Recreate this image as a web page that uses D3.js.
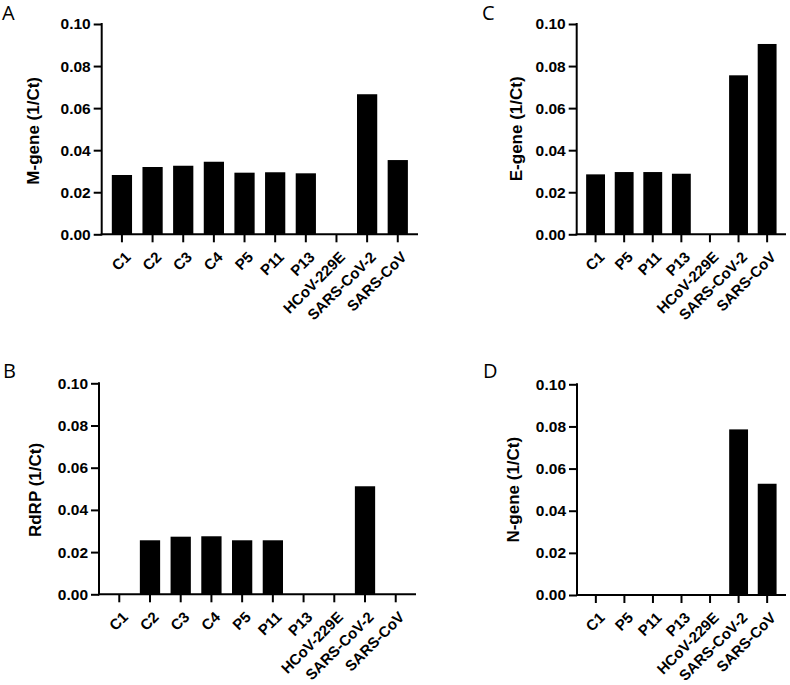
<!DOCTYPE html>
<html>
<head>
<meta charset="utf-8">
<script src="https://cdn.jsdelivr.net/npm/d3@7"></script>
<style>
  body { margin: 0; background: #fff; }
  svg { display: block; }
</style>
</head>
<body>
<svg id="chart" width="790" height="685"></svg>
<script>
// ---- Data ----
const categoriesLong = ["C1", "C2", "C3", "C4", "P5", "P11", "P13", "HCoV-229E", "SARS-CoV-2", "SARS-CoV"];
const categoriesShort = ["C1", "P5", "P11", "P13", "HCoV-229E", "SARS-CoV-2", "SARS-CoV"];
const mGeneValues = [0.0282, 0.0320, 0.0326, 0.0345, 0.0293, 0.0295, 0.0290, 0, 0.0666, 0.0353];
const rdrpValues  = [0, 0.0256, 0.0273, 0.0275, 0.0256, 0.0256, 0, 0, 0.0512, 0];
const eGeneValues = [0.0285, 0.0296, 0.0296, 0.0288, 0, 0.0756, 0.0905];
const nGeneValues = [0, 0, 0, 0, 0, 0.0786, 0.0528];
const yTickValues = [0, 0.02, 0.04, 0.06, 0.08, 0.10];
const yTickLabels = ["0.00", "0.02", "0.04", "0.06", "0.08", "0.10"];
const panelLetters = ["A", "C", "B", "D"];
const yTitles = ["M-gene (1/Ct)", "E-gene (1/Ct)", "RdRP (1/Ct)", "N-gene (1/Ct)"];

// ---- Layout ----
const panels = [
  { letter: panelLetters[0], title: yTitles[0], cats: categoriesLong,  vals: mGeneValues,
    x0: 101.7, x1: 418, yTop: 24, yBot: 234.3, letterX: 2, letterY: 20, titleX: 39, titleY: 130.8 },
  { letter: panelLetters[1], title: yTitles[1], cats: categoriesShort, vals: eGeneValues,
    x0: 576.7, x1: 786, yTop: 24, yBot: 234.3, letterX: 482, letterY: 20, titleX: 522, titleY: 128.8 },
  { letter: panelLetters[2], title: yTitles[2], cats: categoriesLong,  vals: rdrpValues,
    x0: 99, x1: 416, yTop: 383.3, yBot: 594.3, letterX: 3, letterY: 378, titleX: 40.5, titleY: 490 },
  { letter: panelLetters[3], title: yTitles[3], cats: categoriesShort, vals: nGeneValues,
    x0: 577, x1: 786, yTop: 384.3, yBot: 595, letterX: 483, letterY: 378, titleX: 518.5, titleY: 489.7 }
];

const svg = d3.select("#chart");
const FONT = "'Liberation Sans', Arial, sans-serif";

panels.forEach(p => {
  const g = svg.append("g");
  const x = d3.scaleBand().domain(p.cats).range([p.x0, p.x1]).paddingInner(0.34).paddingOuter(0.33);
  const y = d3.scaleLinear().domain([0, 0.1]).range([p.yBot, p.yTop]);

  // bars
  g.selectAll("rect.bar").data(p.cats.map((c, i) => ({ c, v: p.vals[i] })))
    .join("rect")
    .attr("class", "bar")
    .attr("x", d => x(d.c))
    .attr("width", x.bandwidth())
    .attr("y", d => y(d.v))
    .attr("height", d => y(0) - y(d.v))
    .attr("fill", "#000");

  // y axis
  const yAxis = d3.axisLeft(y).tickValues(yTickValues)
    .tickFormat((d, i) => yTickLabels[i]).tickSize(8).tickSizeOuter(0).tickPadding(3);
  const ya = g.append("g").attr("transform", `translate(${p.x0},0)`).call(yAxis);
  ya.attr("font-family", FONT);
  ya.select(".domain").attr("stroke-width", 2).attr("d", `M0,${p.yTop - 1}V${p.yBot + 1}`);
  ya.selectAll(".tick line").attr("stroke-width", 2);
  ya.selectAll(".tick text").attr("font-family", FONT).attr("font-weight", "bold")
    .attr("font-size", 15.5).attr("fill", "#000");

  // x axis
  const xAxis = d3.axisBottom(x).tickSize(8).tickSizeOuter(0).tickPadding(0);
  const xa = g.append("g").attr("transform", `translate(0,${p.yBot})`).call(xAxis);
  xa.attr("font-family", FONT);
  xa.select(".domain").attr("stroke-width", 2).attr("d", `M${p.x0 - 1},0H${p.x1}`);
  xa.selectAll(".tick line").attr("stroke-width", 2);
  xa.selectAll(".tick text")
    .attr("font-family", FONT).attr("font-weight", "bold").attr("font-size", 15)
    .attr("fill", "#000")
    .attr("text-anchor", "end")
    .attr("y", 0).attr("dy", "0.35em")
    .attr("transform", "translate(6,20) rotate(-45)");

  // y title
  g.append("text")
    .attr("transform", `translate(${p.titleX},${p.titleY}) rotate(-90)`)
    .attr("text-anchor", "middle")
    .attr("font-family", FONT).attr("font-weight", "bold").attr("font-size", 17)
    .text(p.title);

  // panel letter
  g.append("text")
    .attr("x", p.letterX).attr("y", p.letterY)
    .attr("font-family", "'Open Sans', sans-serif").attr("font-size", 20)
    .text(p.letter);
});
</script>
</body>
</html>
